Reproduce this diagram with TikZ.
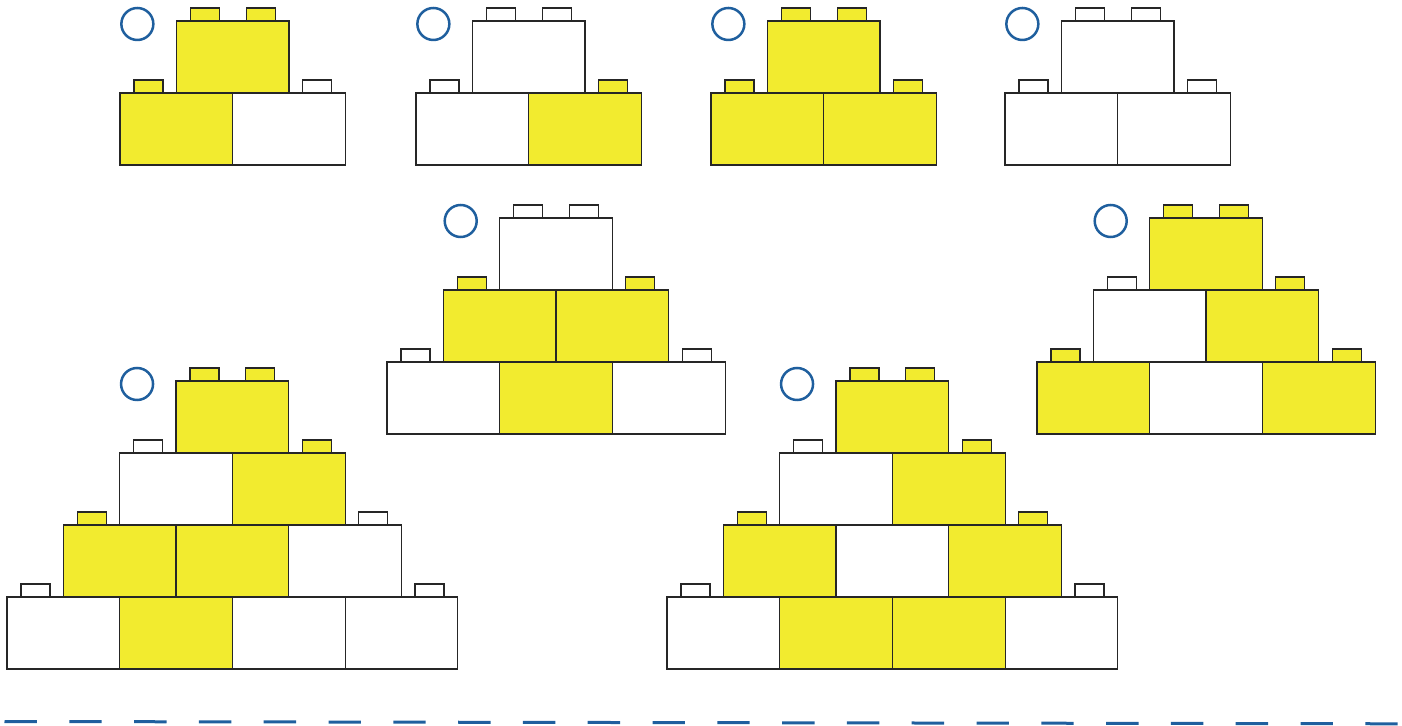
\documentclass[tikz,border=0pt]{standalone}
\usepackage{xcolor}
\usepackage{tikz}
\usetikzlibrary{positioning}
\definecolor{LegoYellow}{RGB}{242,235,47}
\definecolor{MarkBlue}{RGB}{31,95,158}
\tikzset{
  % mattoncini
  brick/.style={draw=black!85,line width=0.6pt,minimum width=56.35pt,minimum height=36pt,inner sep=0,outer sep=0,anchor=south west},
  stud/.style={brick,minimum width=14.5pt,minimum height=6.5pt},
  % cerchio da colorare
  ring/.style={circle,draw=MarkBlue,line width=1.25pt,minimum size=16pt,inner sep=0},
  ground line/.style={draw=MarkBlue,line width=1.5pt,dash pattern=on 16.2pt off 16.2pt}
}
\newcommand{\brickw}{112.7}
\newcommand{\brickh}{72}
% #1 nome, #2 x sinistra, #3 y base, #4 numero di file, #5 colori per fila (dal basso)
\newcommand{\pyramid}[5]{
  \foreach \row [count=\rw from 0] in {#5} {
    \pgfmathtruncatemacro{\lastidx}{#4-\rw-1}
    \foreach \col [count=\bi from 0] in \row {
      \pgfmathsetmacro{\bx}{#2+(\rw*0.5+\bi)*\brickw}
      \pgfmathsetmacro{\by}{#3-\rw*\brickh}
      \ifnum\bi=0
        \node[stud,fill=\col] (#1-\rw-\bi-l) at (\bx+13.9,\by-\brickh) {};
      \fi
      \ifnum\bi=\lastidx
        \node[stud,fill=\col] (#1-\rw-\bi-r) at (\bx+69.8,\by-\brickh) {};
      \fi
      \node[brick,fill=\col] (#1-\rw-\bi) at (\bx,\by) {};
    }
  }
  \pgfmathsetmacro{\ringx}{#2+(#4-1)*0.5*\brickw-39}
  \pgfmathsetmacro{\ringy}{#3-#4*\brickh+3}
  \node[ring] (#1-c) at (\ringx,\ringy) {};
}

\begin{document}
\begin{tikzpicture}[x=0.5pt,y=-0.5pt]
  \useasboundingbox (0,0) rectangle (1402,726);
  % prima riga
  \pyramid{p1}{120}{165}{2}{{LegoYellow,white},{LegoYellow}}
  \pyramid{p2}{416}{165}{2}{{white,LegoYellow},{white}}
  \pyramid{p3}{711}{165}{2}{{LegoYellow,LegoYellow},{LegoYellow}}
  \pyramid{p4}{1005}{165}{2}{{white,white},{white}}
  % seconda riga
  \pyramid{p5}{387}{434}{3}{{white,LegoYellow,white},{LegoYellow,LegoYellow},{white}}
  \pyramid{p6}{1037}{434}{3}{{LegoYellow,white,LegoYellow},{white,LegoYellow},{LegoYellow}}
  % terza riga
  \pyramid{p7}{7}{669}{4}{{white,LegoYellow,white,white},{LegoYellow,LegoYellow,white},{white,LegoYellow},{LegoYellow}}
  \pyramid{p8}{667}{669}{4}{{white,LegoYellow,LegoYellow,white},{LegoYellow,white,LegoYellow},{white,LegoYellow},{LegoYellow}}
  % linea tratteggiata
  \coordinate (gl) at (4.5,721.5);
  \coordinate (gr) at (1402,723.8);
  \draw[ground line] (gl) -- (gr);
\end{tikzpicture}
\end{document}
